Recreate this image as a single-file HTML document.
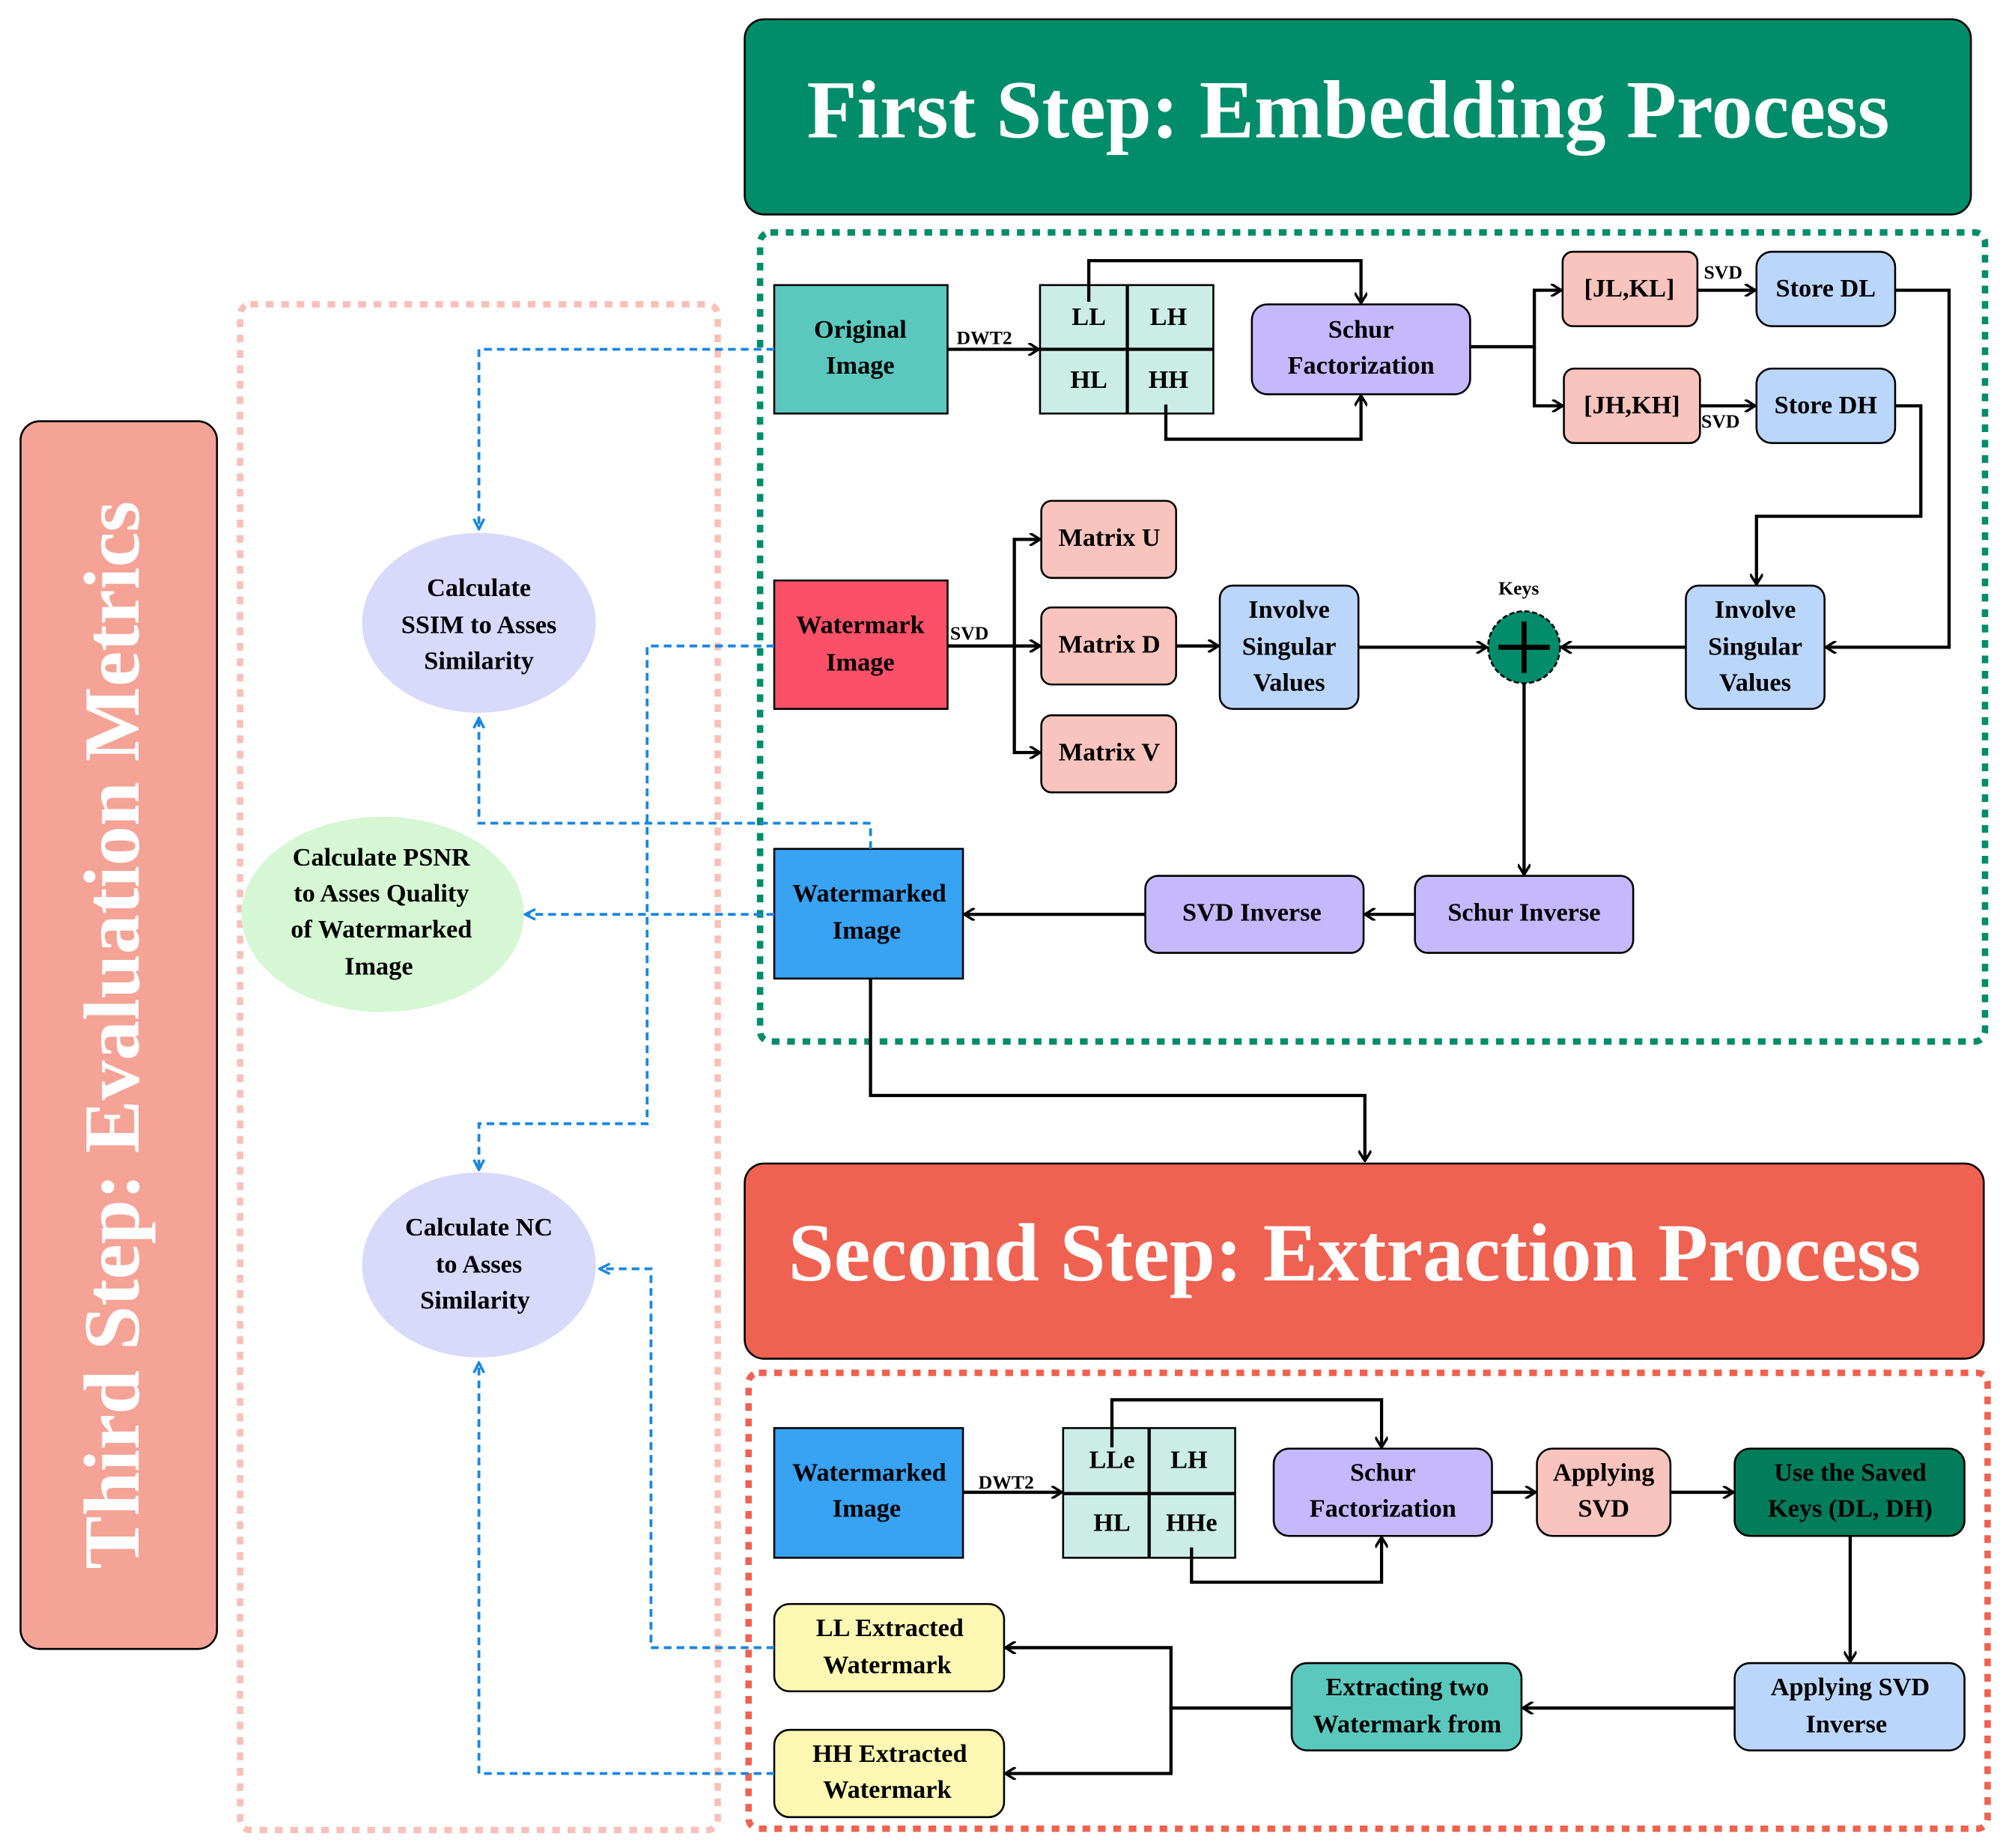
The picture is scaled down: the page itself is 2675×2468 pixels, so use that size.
<!DOCTYPE html>
<html><head><meta charset="utf-8"><style>html,body{margin:0;padding:0;background:#fff}svg{display:block}</style></head>
<body>
<svg width="2675" height="2468" viewBox="0 0 1560 1439" preserveAspectRatio="none" xmlns="http://www.w3.org/2000/svg" font-family="Liberation Serif, serif" font-weight="bold">
<defs>
<marker id="a" markerWidth="10" markerHeight="10" refX="8" refY="5" orient="auto" markerUnits="userSpaceOnUse"><path d="M1,0 L9,5 L1,10" fill="none" stroke="#000" stroke-width="2"/></marker>
<marker id="b" markerWidth="10" markerHeight="10" refX="8" refY="5" orient="auto" markerUnits="userSpaceOnUse"><path d="M1,1 L9,5 L1,9" fill="none" stroke="#1a86e0" stroke-width="2"/></marker>
</defs>
<!-- containers -->
<rect x="580" y="15" width="955" height="152" rx="15" fill="#028d6a" stroke="#000" stroke-width="1.5"/>
<text x="1050" y="107" font-size="64" fill="#fff" text-anchor="middle">First Step: Embedding Process</text>
<rect x="592" y="181" width="954" height="630" rx="8" fill="none" stroke="#028d6a" stroke-width="5" stroke-dasharray="6,6"/>
<rect x="580" y="906" width="965" height="152" rx="15" fill="#ef6150" stroke="#000" stroke-width="1.5"/>
<text x="1055" y="997" font-size="64" fill="#fff" text-anchor="middle">Second Step: Extraction Process</text>
<rect x="583" y="1069" width="965" height="355" rx="8" fill="none" stroke="#ef6150" stroke-width="5" stroke-dasharray="6,6"/>
<rect x="16" y="328" width="153" height="956" rx="15" fill="#f4a396" stroke="#000" stroke-width="1.5"/>
<text transform="translate(108,806) rotate(-90)" font-size="62" fill="#fff" text-anchor="middle">Third Step: Evaluation Metrics</text>
<rect x="187" y="237" width="372" height="1188" rx="8" fill="none" stroke="#f7c0b8" stroke-width="5" stroke-dasharray="6,6"/>

<g stroke="#000" stroke-width="1.5" font-size="20">
<!-- embedding -->
<rect x="603" y="222" width="135" height="100" fill="#5bc8bd"/>
<rect x="810" y="222" width="135" height="100" fill="#cbede6"/>
<line x1="878" y1="222" x2="878" y2="322" stroke-width="2.5"/><line x1="810" y1="272" x2="945" y2="272" stroke-width="2.5"/>
<rect x="975" y="237" width="170" height="70" rx="12" fill="#c5b8fc"/>
<rect x="1217" y="196" width="105" height="58" rx="8" fill="#f8c4bd"/>
<rect x="1218" y="287" width="106" height="58" rx="8" fill="#f8c4bd"/>
<rect x="1368" y="196" width="108" height="58" rx="12" fill="#bbd6fb"/>
<rect x="1368" y="287" width="108" height="58" rx="12" fill="#bbd6fb"/>
<rect x="1313" y="456" width="108" height="96" rx="10" fill="#bbd6fb"/>
<rect x="950" y="456" width="108" height="96" rx="10" fill="#bbd6fb"/>
<rect x="603" y="452" width="135" height="100" fill="#fc5068"/>
<rect x="811" y="390" width="105" height="60" rx="8" fill="#f8c4bd"/>
<rect x="811" y="473" width="105" height="60" rx="8" fill="#f8c4bd"/>
<rect x="811" y="557" width="105" height="60" rx="8" fill="#f8c4bd"/>
<circle cx="1187" cy="504" r="28" fill="#028d6a" stroke-dasharray="4,2"/>
<rect x="1102" y="682" width="170" height="60" rx="10" fill="#c5b8fc"/>
<rect x="892" y="682" width="170" height="60" rx="10" fill="#c5b8fc"/>
<rect x="603" y="661" width="147" height="101" fill="#38a2f3"/>
<!-- extraction -->
<rect x="603" y="1112" width="147" height="101" fill="#38a2f3"/>
<rect x="828" y="1112" width="134" height="101" fill="#cbede6"/>
<line x1="895" y1="1112" x2="895" y2="1213" stroke-width="2.5"/><line x1="828" y1="1163" x2="962" y2="1163" stroke-width="2.5"/>
<rect x="992" y="1128" width="170" height="68" rx="12" fill="#c5b8fc"/>
<rect x="1197" y="1128" width="104" height="68" rx="12" fill="#f8c4bd"/>
<rect x="1351" y="1128" width="179" height="68" rx="12" fill="#027d5c"/>
<rect x="1351" y="1295" width="179" height="68" rx="12" fill="#bbd6fb"/>
<rect x="1006" y="1295" width="179" height="68" rx="12" fill="#5bc8bd"/>
<rect x="603" y="1249" width="179" height="68" rx="12" fill="#fcf7b2"/>
<rect x="603" y="1347" width="179" height="68" rx="12" fill="#fcf7b2"/>
<ellipse cx="373" cy="485" rx="91" ry="70" fill="#d8d9fb" stroke="none"/>
<ellipse cx="298" cy="712" rx="110" ry="76" fill="#d5f7d3" stroke="none"/>
<ellipse cx="373" cy="985" rx="91" ry="72" fill="#d8d9fb" stroke="none"/>
</g>
<line x1="1187" y1="484" x2="1187" y2="524" stroke="#000" stroke-width="4"/><line x1="1167" y1="504" x2="1207" y2="504" stroke="#000" stroke-width="4"/>

<!-- connectors -->
<g fill="none" stroke="#000" stroke-width="2.5">
<path d="M738,272 H808" marker-end="url(#a)"/>
<path d="M848,235 V203 H1060 V235" marker-end="url(#a)"/>
<path d="M908,315 V342 H1060 V309" marker-end="url(#a)"/>
<path d="M1145,270 H1195 V226 H1215" marker-end="url(#a)"/>
<path d="M1195,270 V316 H1216" marker-end="url(#a)"/>
<path d="M1322,226 H1366" marker-end="url(#a)"/>
<path d="M1324,316 H1366" marker-end="url(#a)"/>
<path d="M1476,226 H1518 V504 H1423" marker-end="url(#a)"/>
<path d="M1476,316 H1496 V402 H1368 V454" marker-end="url(#a)"/>
<path d="M1058,504 H1157" marker-end="url(#a)"/>
<path d="M1313,504 H1217" marker-end="url(#a)"/>
<path d="M738,503 H790 V420 H809" marker-end="url(#a)"/>
<path d="M790,503 H809" marker-end="url(#a)"/>
<path d="M790,503 V586 H809" marker-end="url(#a)"/>
<path d="M916,503 H948" marker-end="url(#a)"/>
<path d="M1187,532 V680" marker-end="url(#a)"/>
<path d="M1102,712 H1064" marker-end="url(#a)"/>
<path d="M892,712 H752" marker-end="url(#a)"/>
<path d="M678,762 V853 H1063 V903" marker-end="url(#a)"/>
<path d="M750,1162 H826" marker-end="url(#a)"/>
<path d="M866,1127 V1090 H1076 V1126" marker-end="url(#a)"/>
<path d="M928,1205 V1232 H1076 V1198" marker-end="url(#a)"/>
<path d="M1162,1162 H1195" marker-end="url(#a)"/>
<path d="M1301,1162 H1349" marker-end="url(#a)"/>
<path d="M1441,1196 V1293" marker-end="url(#a)"/>
<path d="M1351,1330 H1187" marker-end="url(#a)"/>
<path d="M1006,1330 H912 V1283 H784" marker-end="url(#a)"/>
<path d="M912,1330 V1381 H784" marker-end="url(#a)"/>
</g>
<g fill="none" stroke="#1a86e0" stroke-width="2.2" stroke-dasharray="6,4">
<path d="M603,272 H373 V411" marker-end="url(#b)"/>
<path d="M678,661 V641 H373 V560" marker-end="url(#b)"/>
<path d="M603,712 H410" marker-end="url(#b)"/>
<path d="M603,503 H504 V875 H373 V910" marker-end="url(#b)"/>
<path d="M603,1283 H507 V988 H468" marker-end="url(#b)"/>
<path d="M603,1381 H373 V1062" marker-end="url(#b)"/>
</g>

<!-- labels -->
<g font-size="20" fill="#000" text-anchor="middle">
<text x="670" y="263">Original</text><text x="670" y="291">Image</text>
<text x="848" y="253">LL</text><text x="910" y="253">LH</text>
<text x="848" y="302">HL</text><text x="910" y="302">HH</text>
<text x="1060" y="263">Schur</text><text x="1060" y="291">Factorization</text>
<text x="1269" y="231">[JL,KL]</text><text x="1271" y="322">[JH,KH]</text>
<text x="1422" y="231">Store DL</text><text x="1422" y="322">Store DH</text>
<text x="1004" y="481">Involve</text><text x="1004" y="510">Singular</text><text x="1004" y="538">Values</text>
<text x="1367" y="481">Involve</text><text x="1367" y="510">Singular</text><text x="1367" y="538">Values</text>
<text x="670" y="493">Watermark</text><text x="670" y="522">Image</text>
<text x="864" y="425">Matrix U</text><text x="864" y="508">Matrix D</text><text x="864" y="592">Matrix V</text>
<text x="1187" y="717">Schur Inverse</text><text x="975" y="717">SVD Inverse</text>
<text x="677" y="702">Watermarked</text><text x="675" y="731">Image</text>
<text x="677" y="1153">Watermarked</text><text x="675" y="1181">Image</text>
<text x="866" y="1143">LLe</text><text x="926" y="1143">LH</text>
<text x="866" y="1192">HL</text><text x="928" y="1192">HHe</text>
<text x="1077" y="1153">Schur</text><text x="1077" y="1181">Factorization</text>
<text x="1249" y="1153">Applying</text><text x="1249" y="1181">SVD</text>
<text x="1441" y="1153">Use the Saved</text><text x="1441" y="1181">Keys (DL, DH)</text>
<text x="1441" y="1320">Applying SVD</text><text x="1438" y="1349">Inverse</text>
<text x="1096" y="1320">Extracting two</text><text x="1096" y="1349">Watermark from</text>
<text x="693" y="1274">LL Extracted</text><text x="691" y="1303">Watermark</text>
<text x="693" y="1372">HH Extracted</text><text x="691" y="1400">Watermark</text>
<text x="373" y="464">Calculate</text><text x="373" y="493">SSIM to Asses</text><text x="373" y="521">Similarity</text>
<text x="297" y="674">Calculate  PSNR</text><text x="297" y="702">to Asses Quality</text><text x="297" y="730">of Watermarked</text><text x="295" y="759">Image</text>
<text x="373" y="962">Calculate  NC</text><text x="373" y="991">to Asses</text><text x="370" y="1019">Similarity</text>
</g>
<g font-size="15" fill="#000">
<text x="745" y="268">DWT2</text><text x="762" y="1159">DWT2</text>
<text x="1327" y="217">SVD</text><text x="1325" y="333">SVD</text>
<text x="740" y="498">SVD</text>
<text x="1167" y="463">Keys</text>
</g>
</svg>
</body></html>
